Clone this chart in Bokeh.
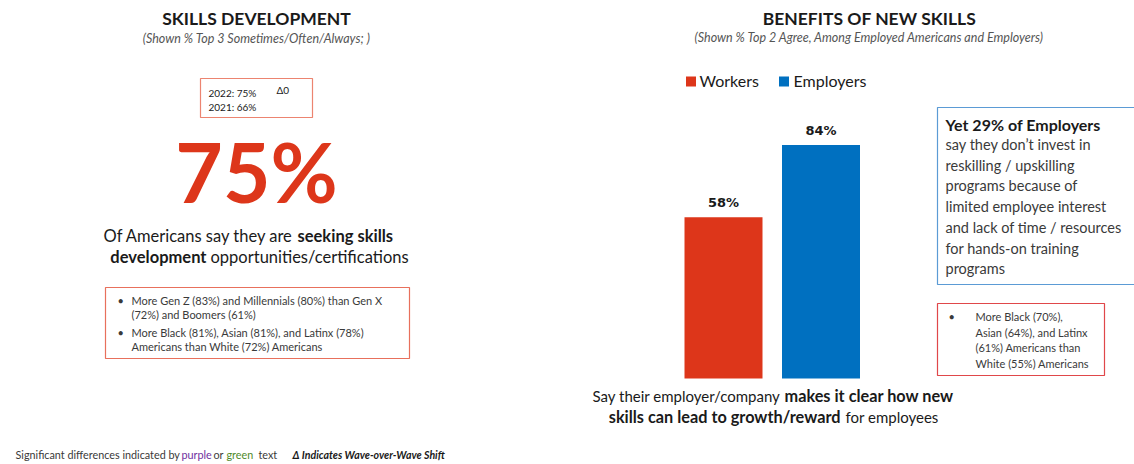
from bokeh.plotting import figure
from bokeh.models import Range1d, ColumnDataSource
from bokeh.core.properties import value
from bokeh.embed import file_html
from bokeh.resources import INLINE

# ---------------- data ----------------
categories = ["Workers", "Employers"]
bar_values = [58, 84]
bar_colors = ["#dd361a", "#0070c0"]

headline_value = 75
wave_years = ["2022", "2021"]
wave_values = [75, 66]
wave_delta = 0

left_title = "SKILLS DEVELOPMENT"
left_subtitle = "(Shown % Top 3 Sometimes/Often/Always; )"
left_bullets = [
    ["More Gen Z (83%) and Millennials (80%) than Gen X", "(72%) and Boomers (61%)"],
    ["More Black (81%), Asian (81%), and Latinx (78%)", "Americans than White (72%) Americans"],
]
right_title = "BENEFITS OF NEW SKILLS"
right_subtitle = "(Shown % Top 2 Agree, Among Employed Americans and Employers)"
callout_head = "Yet 29% of Employers"
callout_lines = ["say they don\u2019t invest in", "reskilling / upskilling", "programs because of",
                 "limited employee interest", "and lack of time / resources",
                 "for hands-on training", "programs"]
right_bullets = [["More Black (70%),", "Asian (64%), and Latinx", "(61%) Americans than",
                  "White (55%) Americans"]]

FONT = "Lato"
DARK = "#1a1a1a"
GRAY = "#3a3a3a"

W, H = 1134, 464

# ---------------- figure ----------------
p = figure(width=W, height=H, x_range=Range1d(0, W), y_range=Range1d(H, 0),
           output_backend="svg", toolbar_location=None, min_border=0)
p.axis.visible = False
p.grid.visible = False
p.outline_line_color = None
p.background_fill_color = "white"

# bar scales: pixel 378 is the zero line, 2.78 px per percent; bar index spacing 97.5 px
p.extra_y_ranges = {"pct": Range1d(-(H - 378) / 2.78, 378 / 2.78)}
p.extra_x_ranges = {"idx": Range1d(-723 / 97.5, 1 + (W - 820.5) / 97.5)}

src = ColumnDataSource(dict(
    x=list(range(len(categories))), top=bar_values, color=bar_colors,
    label=[f"{v}%" for v in bar_values], cat=categories))
p.vbar(x="x", top="top", bottom=0, width=0.8, fill_color="color", line_color=None,
       source=src, x_range_name="idx", y_range_name="pct")
p.text(x="x", y="top", text="label", source=src, x_range_name="idx", y_range_name="pct",
       text_font=value("DejaVu Sans"), text_font_style="bold", text_font_size="13px",
       text_color=DARK, text_align="center", text_baseline="bottom", y_offset=-7)


def txt(x, y, s, size="16px", style="normal", color=DARK, align="left", font=FONT):
    p.text(x=[x], y=[y], text=[s], text_font=value(font), text_font_size=size,
           text_font_style=style, text_color=color, text_align=align, text_baseline="middle")


def box(l, r, t, b, color, w=1.2):
    p.quad(left=[l], right=[r], top=[t], bottom=[b], fill_color=None, line_color=color,
           line_width=w)


# ---------------- left panel ----------------
txt(256, 18, left_title, size="17.5px", style="bold", align="center")
txt(256, 38, left_subtitle, size="12.5px", style="italic", color="#555555", align="center")

box(200, 312, 78, 117, "#ec8470")
txt(208, 92, f"{wave_years[0]}: {wave_values[0]}%", size="10px")
txt(208, 106, f"{wave_years[1]}: {wave_values[1]}%", size="10px")
txt(276, 89, f"\u0394{wave_delta}", size="10px")

txt(256, 170, f"{headline_value}%", size="82px", style="bold", color="#dd361a", align="center")

txt(293, 235, "Of Americans say they are", size="16.5px", color=DARK, align="right")
txt(297, 235, "seeking skills", size="16.5px", style="bold", align="left")
txt(206, 256, "development", size="16.5px", style="bold", align="right")
txt(210, 256, "opportunities/certifications", size="16.5px", align="left")

box(105, 409, 287, 358, "#e8705c")
ly = [300, 314, 332, 346]
k = 0
for bl in left_bullets:
    txt(117, ly[k], "\u2022", size="11px", color=GRAY)
    for line in bl:
        txt(131, ly[k], line, size="11px", color=GRAY)
        k += 1

# footer
txt(15, 454, "Significant differences indicated by", size="10.8px", color=GRAY)
txt(181, 454, "purple", size="10.8px", color="#7030a0")
txt(213, 454, "or", size="10.8px", color=GRAY)
txt(226, 454, "green", size="10.8px", color="#4f8a2a")
txt(258, 454, "text", size="10.8px", color=GRAY)
txt(292, 454, "\u0394 Indicates Wave-over-Wave Shift", size="10.6px", style="bold italic", color=DARK)

# ---------------- right panel ----------------
txt(869, 18, right_title, size="17.5px", style="bold", align="center")
txt(869, 37, right_subtitle, size="12.5px", style="italic", color="#555555", align="center")

# legend
p.rect(x=[690.5, 783.5], y=[81, 81], width=10, height=10, fill_color=bar_colors, line_color=None)
txt(699, 80, categories[0], size="16px")
txt(793, 80, categories[1], size="16px")

# caption
txt(780, 395, "Say their employer/company", size="15px", align="right")
txt(784, 395, "makes it clear how new", size="16.3px", style="bold", align="left")
txt(840, 416, "skills can lead to growth/reward", size="16.3px", style="bold", align="right")
txt(845, 416, "for employees", size="15px", align="left")

# callout
box(937, 1145, 107, 284, "#5b9bd5")
txt(945, 124, callout_head, size="16px", style="bold")
for i, line in enumerate(callout_lines):
    txt(945, 144 + i * 20.7, line, size="14.5px", color=GRAY)

box(937, 1104, 303, 375, "#e0474a")
txt(948, 316, "\u2022", size="11px", color=GRAY)
for i, line in enumerate(right_bullets[0]):
    txt(975, 316 + i * 15.5, line, size="11px", color=GRAY)

open("out.html", "w").write(file_html(p, INLINE))
